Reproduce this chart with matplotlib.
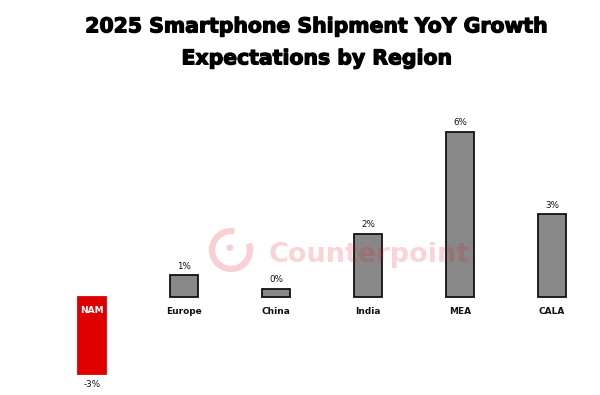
import matplotlib
matplotlib.use('Agg')
import matplotlib.pyplot as plt
import matplotlib.patheffects as pe
from matplotlib.patches import Arc, Circle

plt.rcParams['font.family'] = ['DejaVu Sans']

regions = ['NAM', 'Europe', 'China', 'India', 'MEA', 'CALA']
growth = [-2.8, 0.8, 0.3, 2.3, 6.0, 3.0]
value_labels = ['-3%', '1%', '0%', '2%', '6%', '3%']

fig = plt.figure(figsize=(6, 3.95), dpi=100)
ax = fig.add_axes([0.0767, 0.003, 0.92, 0.699])

colors = ['#e00000' if v < 0 else '#888888' for v in growth]
edges = ['#e00000' if v < 0 else '#111111' for v in growth]
x = list(range(len(regions)))
ax.bar(x, growth, width=0.3, color=colors, edgecolor=edges, linewidth=1.3)

ax.set_xlim(-0.5, 5.5)
ax.set_ylim(-3.5, 6.5)
ax.axis('off')

for i, (name, v, lab) in enumerate(zip(regions, growth, value_labels)):
    if v < 0:
        ax.annotate(name, (i, 0), xytext=(0, -9.5), textcoords='offset points',
                    ha='center', va='center', color='white', fontsize=6.5, fontweight='bold')
        ax.annotate(lab, (i, v), xytext=(0, -7), textcoords='offset points',
                    ha='center', va='center', color='#111111', fontsize=6.3)
    else:
        ax.annotate(name, (i, 0), xytext=(0, -10.5), textcoords='offset points',
                    ha='center', va='center', color='#111111', fontsize=6.5, fontweight='bold')
        ax.annotate(lab, (i, v), xytext=(0, 6.5), textcoords='offset points',
                    ha='center', va='center', color='#111111', fontsize=6.3)

stroke = [pe.withStroke(linewidth=0.9, foreground='black')]
fig.text(0.528, 0.932, '2025 Smartphone Shipment YoY Growth', ha='center', va='center',
         fontsize=14.7, fontweight='bold', color='black', path_effects=stroke)
fig.text(0.528, 0.851, 'Expectations by Region', ha='center', va='center',
         fontsize=14.7, fontweight='bold', color='black', path_effects=stroke)

# watermark
wm = '#e8101e'
fig.text(0.447, 0.337, 'Counterpoint', ha='left', va='baseline', fontsize=19.5,
         fontweight='bold', color=wm, alpha=0.18, zorder=10)
logo = fig.add_axes([231 / 600 - 0.04, 1 - 250 / 395 - 0.06, 0.08, 0.12])
logo.set_xlim(-1, 1)
logo.set_ylim(-1, 1)
logo.set_aspect('equal')
logo.axis('off')
logo.patch.set_alpha(0)
logo.add_patch(Arc((0, 0), 1.6, 1.6, theta1=80, theta2=20, color=wm, alpha=0.2, lw=4.5))
logo.add_patch(Circle((-0.05, 0.1), 0.14, color=wm, alpha=0.2, lw=0))

fig.savefig('out.png', dpi=100, facecolor='white')
